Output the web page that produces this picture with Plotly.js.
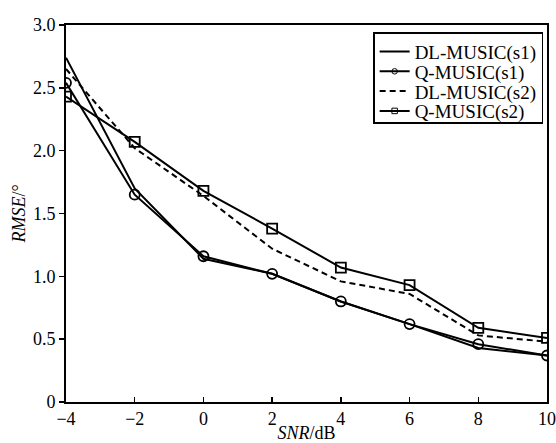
<!DOCTYPE html>
<html>
<head>
<meta charset="utf-8">
<script src="https://cdn.plot.ly/plotly-3.0.1.min.js"></script>
<style>html,body{margin:0;padding:0;background:#fff;}#chart{width:556px;height:443px;}</style>
</head>
<body>
<div id="chart"></div>
<script>
var snr = [-4, -2, 0, 2, 4, 6, 8, 10];
var dlS1 = [2.74, 1.70, 1.14, 1.02, 0.80, 0.62, 0.43, 0.37];
var qS1 = [2.54, 1.65, 1.16, 1.02, 0.80, 0.62, 0.46, 0.37];
var dlS2 = [2.65, 2.02, 1.64, 1.22, 0.96, 0.86, 0.53, 0.48];
var qS2 = [2.43, 2.07, 1.68, 1.38, 1.07, 0.93, 0.59, 0.51];
var seriesNames = ["DL-MUSIC(s1)", "Q-MUSIC(s1)", "DL-MUSIC(s2)", "Q-MUSIC(s2)"];
var xTicks = [-4, -2, 0, 2, 4, 6, 8, 10];
var yTicks = [0, 0.5, 1.0, 1.5, 2.0, 2.5, 3.0];
var yTickText = ["0", "0.5", "1.0", "1.5", "2.0", "2.5", "3.0"];

var font = "Liberation Serif, Times New Roman, serif";
var traces = [
  {x: snr, y: dlS1, name: seriesNames[0], mode: "lines", line: {color: "#000", width: 2}},
  {x: snr, y: qS1, name: seriesNames[1], mode: "lines+markers", line: {color: "#000", width: 2},
   marker: {symbol: "circle-open", size: 10, color: "#000", line: {width: 1.8, color: "#000"}}},
  {x: snr, y: dlS2, name: seriesNames[2], mode: "lines", line: {color: "#000", width: 2, dash: "6px,4px"}},
  {x: snr, y: qS2, name: seriesNames[3], mode: "lines+markers", line: {color: "#000", width: 2},
   marker: {symbol: "square-open", size: 10, color: "#000", line: {width: 1.8, color: "#000"}}}
];

var layout = {
  width: 556, height: 443,
  margin: {l: 66, r: 9, t: 25, b: 41},
  paper_bgcolor: "#fff", plot_bgcolor: "#fff",
  font: {family: font, size: 18, color: "#000"},
  showlegend: true,
  legend: {x: 0.992, xanchor: "right", y: 0.981, yanchor: "top",
    bgcolor: "#fff", bordercolor: "#000", borderwidth: 1.5,
    font: {family: font, size: 19, color: "#000"}, tracegroupgap: 0},
  xaxis: {range: [-4, 10], tickvals: xTicks, ticks: "inside", ticklen: 5, tickwidth: 1.5, tickcolor: "#000",
    showline: true, mirror: true, linecolor: "#000", linewidth: 1.8, showgrid: false, zeroline: false,
    ticklabeloverflow: "allow",
    tickfont: {family: font, size: 18},
    title: {text: "<i>SNR</i>/dB", font: {family: font, size: 18}, standoff: 2}},
  yaxis: {range: [0, 3], tickvals: yTicks, ticktext: yTickText, ticks: "outside", ticklen: 5, tickwidth: 1.5, tickcolor: "#000",
    showline: true, mirror: true, linecolor: "#000", linewidth: 1.8, showgrid: false, zeroline: false,
    tickfont: {family: font, size: 18},
    title: {text: "<i>RMSE</i>/°", font: {family: font, size: 18}, standoff: 3}}
};
Plotly.newPlot("chart", traces, layout, {staticPlot: true, displayModeBar: false}).then(function (gd) {
  // compact the legend rows to match the reference spacing
  var items = gd.querySelectorAll(".legend .traces");
  var step = 19.8;
  var first = null;
  items.forEach(function (el, i) {
    var m = /translate\(\s*([-\d.]+)[ ,]+([-\d.]+)\s*\)/.exec(el.getAttribute("transform") || "");
    if (!m) return;
    var x = parseFloat(m[1]), y = parseFloat(m[2]);
    if (first === null) first = y - 1;
    el.setAttribute("transform", "translate(" + x + "," + (first + i * step) + ")");
  });
  var bg = gd.querySelector(".legend rect.bg");
  if (bg) bg.setAttribute("height", 90);
  // smaller markers in the legend symbols
  gd.querySelectorAll(".legend .legendpoints path.scatterpts").forEach(function (p) {
    var t = p.getAttribute("transform") || "";
    p.setAttribute("transform", t + " scale(0.55)");
  });
});
</script>
</body>
</html>
